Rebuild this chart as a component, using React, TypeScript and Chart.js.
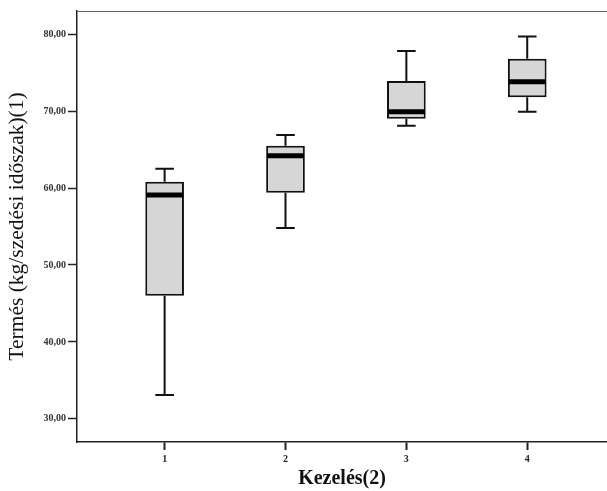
import React, { useEffect, useRef } from 'react';
import { Chart, registerables } from 'chart.js';

Chart.register(...registerables);

const categories = [1, 2, 3, 4];
const categoryLabels = ['1', '2', '3', '4'];
const mins = [33.1, 54.8, 68.1, 69.9];
const q1s = [46.0, 59.4, 69.0, 71.8];
const medians = [59.1, 64.2, 69.9, 73.8];
const q3s = [60.8, 65.5, 73.9, 76.8];
const maxs = [62.5, 66.9, 77.8, 79.7];
const yTicks = [30, 40, 50, 60, 70, 80];

const yTitle = 'Termés (kg/szedési időszak)(1)';
const xTitle = 'Kezelés(2)';

const SERIF = '"Liberation Serif", "DejaVu Serif", serif';

const boxPlugin = {
  id: 'boxWhiskers',
  beforeDatasetsDraw(chart: any) {
    const ctx = chart.ctx;
    const xs = chart.scales.x;
    const ys = chart.scales.y;
    const meta = chart.getDatasetMeta(0);
    ctx.save();
    ctx.strokeStyle = '#111';
    ctx.lineWidth = 2;
    categories.forEach((c, i) => {
      const x = xs.getPixelForValue(c);
      const w = meta.data[i] ? meta.data[i].width : 38;
      const cap = w * 0.48;
      const yMax = ys.getPixelForValue(maxs[i]);
      const yQ3 = ys.getPixelForValue(q3s[i]);
      const yQ1 = ys.getPixelForValue(q1s[i]);
      const yMin = ys.getPixelForValue(mins[i]);
      ctx.beginPath();
      ctx.moveTo(x, yQ3);
      ctx.lineTo(x, yMax);
      ctx.moveTo(x - cap / 2, yMax);
      ctx.lineTo(x + cap / 2, yMax);
      ctx.moveTo(x, yQ1);
      ctx.lineTo(x, yMin);
      ctx.moveTo(x - cap / 2, yMin);
      ctx.lineTo(x + cap / 2, yMin);
      ctx.stroke();
    });
    ctx.restore();
  },
  afterDatasetsDraw(chart: any) {
    const ctx = chart.ctx;
    const xs = chart.scales.x;
    const ys = chart.scales.y;
    const meta = chart.getDatasetMeta(0);
    ctx.save();
    ctx.strokeStyle = '#000';
    ctx.lineWidth = 5;
    categories.forEach((c, i) => {
      const x = xs.getPixelForValue(c);
      const w = meta.data[i] ? meta.data[i].width : 38;
      const y = ys.getPixelForValue(medians[i]);
      ctx.beginPath();
      ctx.moveTo(x - w / 2 + 1, y);
      ctx.lineTo(x + w / 2 - 1, y);
      ctx.stroke();
    });
    ctx.restore();
  },
};

const framePlugin = {
  id: 'frameTop',
  afterDraw(chart: any) {
    const { ctx, chartArea } = chart;
    ctx.save();
    ctx.strokeStyle = '#666';
    ctx.lineWidth = 1;
    ctx.beginPath();
    ctx.moveTo(chartArea.left, chartArea.top + 0.5);
    ctx.lineTo(chartArea.right, chartArea.top + 0.5);
    ctx.stroke();
    ctx.restore();
  },
};

export default function App() {
  const canvasRef = useRef<HTMLCanvasElement | null>(null);

  useEffect(() => {
    document.body.style.margin = '0';
    const canvas = canvasRef.current;
    if (!canvas) return;
    const chart = new Chart(canvas, {
      type: 'bar',
      data: {
        datasets: [
          {
            data: categories.map((c, i) => ({ x: c, y: [q1s[i], q3s[i]] })) as any,
            backgroundColor: '#d6d6d6',
            borderColor: '#111',
            borderWidth: 2,
            borderSkipped: false,
            categoryPercentage: 1,
            barPercentage: 0.32,
          },
        ],
      },
      options: {
        animation: false,
        responsive: true,
        maintainAspectRatio: false,
        layout: { padding: { left: 0, right: 0, top: 11, bottom: 0 } },
        plugins: {
          legend: { display: false },
          tooltip: { enabled: false },
        },
        scales: {
          x: {
            type: 'linear',
            offset: false,
            min: 0.275,
            max: 4.66,
            afterBuildTicks: (scale: any) => {
              scale.ticks = categories.map((v) => ({ value: v }));
            },
            afterFit: (scale: any) => {
              scale.height = 49;
            },
            ticks: {
              callback: (v: any) => categoryLabels[categories.indexOf(Number(v))] ?? '',
              font: { family: SERIF, size: 10, weight: 'bold' },
              color: '#222',
              padding: 3,
              maxRotation: 0,
            },
            grid: {
              offset: false,
              drawOnChartArea: false,
              drawTicks: true,
              tickLength: 8,
              tickColor: '#222',
              tickWidth: 2,
            },
            border: { display: true, color: '#222', width: 1.5 },
            title: {
              display: true,
              text: xTitle,
              font: { family: SERIF, size: 20, weight: 'bold' },
              color: '#111',
              padding: { top: 0, bottom: 0 },
            },
          },
          y: {
            type: 'linear',
            min: 27,
            max: 83,
            afterBuildTicks: (scale: any) => {
              scale.ticks = yTicks.map((v) => ({ value: v }));
            },
            afterFit: (scale: any) => {
              scale.width = 77;
            },
            ticks: {
              callback: (v: any) => Number(v).toFixed(2).replace('.', ','),
              font: { family: SERIF, size: 10, weight: 'bold' },
              color: '#333',
              padding: 2,
            },
            grid: {
              drawOnChartArea: false,
              drawTicks: true,
              tickLength: 9,
              tickColor: '#222',
              tickWidth: 1.5,
            },
            border: { display: true, color: '#222', width: 1.5 },
            title: {
              display: true,
              text: yTitle,
              font: { family: SERIF, size: 21.5, weight: 'normal' },
              color: '#111',
              padding: { top: 4, bottom: 4 },
            },
          },
        },
      },
      plugins: [boxPlugin, framePlugin],
    } as any);
    return () => {
      chart.destroy();
    };
  }, []);

  return (
    <div style={{ position: 'absolute', left: 0, top: 0, width: 607, height: 491, background: '#fff' }}>
      <canvas ref={canvasRef} />
    </div>
  );
}
